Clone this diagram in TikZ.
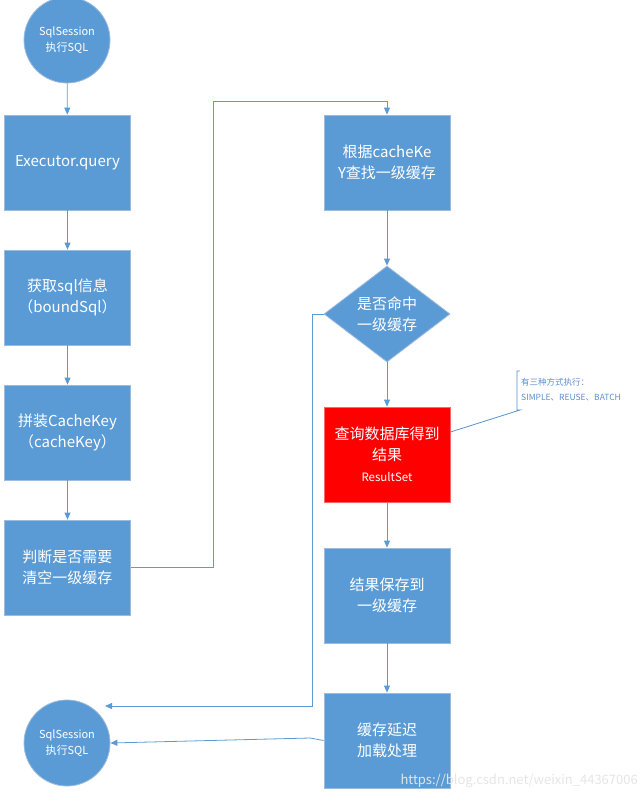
\documentclass[tikz,border=0pt]{standalone}
\usepackage{fontspec}
\setmainfont{Noto Sans CJK SC}
\usetikzlibrary{shapes.geometric,arrows.meta}
\definecolor{blu}{HTML}{5B9BD5}
\definecolor{edg}{HTML}{9DBBDD}
\definecolor{ann}{HTML}{5B8FD0}
\begin{document}
\begin{tikzpicture}[x=1pt,y=-1pt,
  box/.style={rectangle,fill=blu,draw=edg,line width=0.8pt,minimum width=126pt,minimum height=95pt,text=white,font=\fontsize{15}{21}\selectfont,align=center,inner sep=0pt},
  circ/.style={circle,fill=blu,draw=edg,line width=0.8pt,minimum size=86pt,text=white,font=\fontsize{11}{16}\selectfont,align=center,inner sep=0pt},
  dia/.style={diamond,fill=blu,draw=edg,line width=0.8pt,minimum width=126pt,minimum height=96pt,aspect=1.3,text=white,font=\fontsize{15}{21}\selectfont,align=center,inner sep=0pt},
  arr/.style={draw=blu,line width=0.8pt,-{Triangle[length=7pt,width=6pt]}}]
\useasboundingbox (0,0) rectangle (644,796);
\node[circ] (s1) at (67,40) {SqlSession\\执行SQL};
\node[box] (b1) at (67.5,162.5) {Executor.query};
\node[box] (b2) at (67.5,297.5) {获取sql信息\\（boundSql）};
\node[box] (b3) at (67.5,432.5) {拼装CacheKey\\（cacheKey）};
\node[box] (b4) at (67.5,567.5) {判断是否需要\\清空一级缓存};
\node[box] (r1) at (387,162.5) {根据cacheKe\\Y查找一级缓存};
\node[dia] (d1) at (387,314) {是否命中\\一级缓存};
\node[box,fill=red,draw=red!60] (r2) at (387,454.5) {查询数据库得到\\结果\\{\fontsize{11.5}{15}\selectfont ResultSet}};
\node[box] (r3) at (387,595.5) {结果保存到\\一级缓存};
\node[box] (r4) at (387,740.5) {缓存延迟\\加载处理};
\node[circ] (s2) at (67,743) {SqlSession\\执行SQL};
\draw[arr] (s1) -- (b1);
\draw[arr] (b1) -- (b2);
\draw[arr] (b2) -- (b3);
\draw[arr] (b3) -- (b4);
\draw[arr] (b4.east) -- (213,567.5) -- (213,101) -- (387,101) -- (r1.north);
\draw[arr] (r1) -- (d1);
\draw[arr] (d1) -- (r2);
\draw[arr] (r2) -- (r3);
\draw[arr] (r3) -- (r4);
\draw[arr] (d1.west) -- (312,314) -- (312,706) -- (105,706);
\draw[arr] (r4.west) -- (310,738) -- (s2.east);
\coordinate (a1) at (520,410);
\draw[draw=ann,line width=0.8pt] (r2.east |- 0,432) -- (a1) -- (517,410) -- (517,371) -- (520,371);
\node[anchor=west,text=ann,font=\fontsize{8.5}{15}\selectfont,align=left,inner sep=0pt] (t1) at (521,390) {有三种方式执行：\\SIMPLE、REUSE、BATCH};
\node[anchor=south east,text=white!80!gray,font=\fontsize{13}{15}\selectfont,inner sep=2pt] (wm) at (640,790) {https://blog.csdn.net/weixin\_44367006};
\end{tikzpicture}
\end{document}
